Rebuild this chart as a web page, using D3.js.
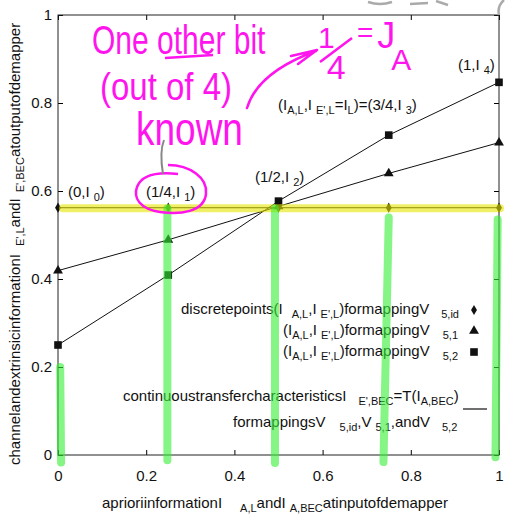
<!DOCTYPE html>
<html>
<head>
<meta charset="utf-8">
<script src="https://cdn.jsdelivr.net/npm/d3@7"></script>
<style>
  body { margin: 0; background: #fff; }
  text { font-family: "Liberation Sans", Arial, sans-serif; fill: #111; }
</style>
</head>
<body>
<div id="chart"></div>
<script>
// values
const xPoints = [0, 0.25, 0.5, 0.75, 1];
const v5id = [0.562, 0.562, 0.562, 0.562, 0.562];
const v51 = [0.419, 0.489, 0.565, 0.640, 0.710];
const v52 = [0.250, 0.409, 0.577, 0.727, 0.847];
const tickValues = [0, 0.2, 0.4, 0.6, 0.8, 1];
const tickLabels = ["0", "0.2", "0.4", "0.6", "0.8", "1"];

// hand drawn green strokes: [xTop, yTop, xBottom, yBottom] in data units
const greenStrokes = [
  [0.005, 0.200, 0.007, -0.017],
  [0.248, 0.560, 0.248, -0.012],
  [0.492, 0.560, 0.492, -0.018],
  [0.750, 0.540, 0.738, -0.016],
  [0.997, 0.535, 0.992, -0.005]
];

const W = 506, H = 514;
const svg = d3.select("#chart").append("svg")
  .attr("width", W).attr("height", H);

const x = d3.scaleLinear().domain([0, 1]).range([58, 499]);
const y = d3.scaleLinear().domain([0, 1]).range([455, 15]);

// ticks on all four sides, pointing inwards
svg.append("g").attr("transform", `translate(0,${y(0)})`)
  .call(d3.axisBottom(x).tickValues(tickValues).tickFormat((d, i) => tickLabels[i])
    .tickSizeInner(-5).tickSizeOuter(0).tickPadding(15))
  .call(g => g.select(".domain").remove())
  .call(g => g.selectAll("text").attr("font-size", 15).attr("font-family", "Liberation Sans"));
svg.append("g").attr("transform", `translate(${x(0)},0)`)
  .call(d3.axisLeft(y).tickValues(tickValues).tickFormat((d, i) => tickLabels[i])
    .tickSizeInner(-5).tickSizeOuter(0).tickPadding(6))
  .call(g => g.select(".domain").remove())
  .call(g => g.selectAll("text").attr("font-size", 15).attr("font-family", "Liberation Sans"));
svg.append("g").attr("transform", `translate(0,${y(1)})`)
  .call(d3.axisTop(x).tickValues(tickValues).tickFormat("").tickSizeInner(-5).tickSizeOuter(0))
  .call(g => g.select(".domain").remove());
svg.append("g").attr("transform", `translate(${x(1)},0)`)
  .call(d3.axisRight(y).tickValues(tickValues).tickFormat("").tickSizeInner(-5).tickSizeOuter(0))
  .call(g => g.select(".domain").remove());

svg.append("rect")
  .attr("x", x(0)).attr("y", y(1))
  .attr("width", x(1) - x(0)).attr("height", y(0) - y(1))
  .attr("fill", "none").attr("stroke", "#222").attr("stroke-width", 1);

// text with subscripts, parts = [text, isSub, dx]
function rich(g, px, py, parts, size) {
  size = size || 15;
  const t = g.append("text").attr("x", px).attr("y", py).attr("font-size", size);
  let down = false;
  parts.forEach(([str, sub, dx]) => {
    const ts = t.append("tspan").text(str);
    if (dx) ts.attr("dx", dx);
    if (sub) {
      ts.attr("font-size", 11);
      if (!down) { ts.attr("dy", 4); down = true; }
    } else if (down) {
      ts.attr("dy", -4); down = false;
    }
  });
  return t;
}

// lines
const line = d3.line().x(d => x(d[0])).y(d => y(d[1]));
[v5id, v51, v52].forEach(s => {
  svg.append("path")
    .datum(xPoints.map((v, i) => [v, s[i]]))
    .attr("d", line)
    .attr("fill", "none").attr("stroke", "#111").attr("stroke-width", 1);
});

// markers
const diamond = d3.symbol().type(d3.symbolDiamond).size(30);
const tri = d3.symbol().type(d3.symbolTriangle).size(42);
const square = d3.symbol().type(d3.symbolSquare).size(58);
function markers(s, sym) {
  svg.append("g").selectAll("path").data(xPoints).join("path")
    .attr("transform", (d, i) => `translate(${x(d)},${y(s[i])})`)
    .attr("d", sym).attr("fill", "#111");
}
markers(v5id, diamond);
markers(v51, tri);
markers(v52, square);

// point labels
rich(svg, 68, 197, [["(0,I"], ["0", true, 4], [")"]]);
rich(svg, 146, 197, [["(1/4,I"], ["1", true, 4], [")"]]);
rich(svg, 255, 182, [["(1/2,I"], ["2", true, 4], [")"]]);
rich(svg, 278, 110, [["(I"], ["A,L", true], [",I"], ["E',L", true, 4], ["=I"], ["L", true], [")=(3/4,I"], ["3", true, 4], [")"]]);
rich(svg, 458, 70, [["(1,I"], ["4", true, 4], [")"]]);

// legend
rich(svg, 181, 314, [["discretepoints(I"], ["A,L", true, 9], [",I"], ["E',L", true, 4], [")formappingV"], ["5,id", true, 12]]);
rich(svg, 283, 335, [["(I"], ["A,L", true], [",I"], ["E',L", true, 4], [")formappingV"], ["5,1", true, 13]]);
rich(svg, 283, 356, [["(I"], ["A,L", true], [",I"], ["E',L", true, 4], [")formappingV"], ["5,2", true, 13]]);
rich(svg, 123, 401, [["continuoustransfercharacteristicsI"], ["E',BEC", true, 12], ["=T(I"], ["A,BEC", true], [")"]]);
rich(svg, 233, 427, [["formappingsV"], ["5,id", true, 14], [",V"], ["5,1", true, 4], [",andV"], ["5,2", true, 12]]);
svg.append("path").attr("transform", "translate(474,310)").attr("d", diamond).attr("fill", "#111");
svg.append("path").attr("transform", "translate(474,331)").attr("d", tri).attr("fill", "#111");
svg.append("path").attr("transform", "translate(474,352)").attr("d", square).attr("fill", "#111");
svg.append("line").attr("x1", 463).attr("x2", 487).attr("y1", 409).attr("y2", 409)
  .attr("stroke", "#111").attr("stroke-width", 1.2);

// axis titles
rich(svg, 102, 508, [["aprioriinformationI"], ["A,L", true, 18], ["andI"], ["A,BEC", true, 4], ["atinputofdemapper"]]);
rich(svg.append("g").attr("transform", "translate(20,465) rotate(-90)"), 0, 0,
  [["channelandextrinsicinformationI"], ["E',L", true, 8], ["andI"], ["E',BEC", true, 6], ["atoutputofdemapper"]]);

// ---- highlighter marks on top ----
svg.append("line")
  .attr("x1", x(0) + 5).attr("x2", x(1) + 1)
  .attr("y1", y(v5id[0]) + 0.5).attr("y2", y(v5id[0]) + 0.5)
  .attr("stroke", "#e6e600").attr("stroke-opacity", 0.6)
  .attr("stroke-width", 8).attr("stroke-linecap", "round");

svg.append("g").selectAll("line").data(greenStrokes).join("line")
  .attr("x1", d => x(d[0])).attr("y1", d => y(d[1]))
  .attr("x2", d => x(d[2])).attr("y2", d => y(d[3]))
  .attr("stroke", "#33ee33").attr("stroke-opacity", 0.6)
  .attr("stroke-width", 8).attr("stroke-linecap", "round");

// ---- magenta handwriting ----
const pink = "#ff14ee";
const hand = svg.append("g").attr("class", "hand");
function scrawl(px, py, str, size, stretch) {
  return hand.append("text")
    .attr("transform", `translate(${px},${py}) scale(1,${stretch})`)
    .text(str).style("fill", pink).attr("font-size", size);
}
scrawl(92, 54, "One other bit", 30, 1.35);
scrawl(100, 100, "(out of 4)", 33, 1.2);
scrawl(136, 145, "known", 37, 1.25);

// "1/4 = J_A"
const frac = hand.append("text").attr("x", 318).attr("y", 48)
  .style("fill", pink);
frac.append("tspan").attr("font-size", 30).text("1");
frac.append("tspan").attr("font-size", 34).attr("dx", -8).attr("dy", 31).text("4");
const ja = hand.append("text").attr("x", 357).attr("y", 42)
  .style("fill", pink);
ja.append("tspan").attr("font-size", 28).text("=");
ja.append("tspan").attr("font-size", 36).attr("dx", 4).attr("dy", 6).text("J");
ja.append("tspan").attr("font-size", 30).attr("dx", -4).attr("dy", 22).text("A");

hand.append("path").attr("d", "M165,58 L213,55")
  .attr("stroke", pink).attr("stroke-width", 2.5).attr("fill", "none");
hand.append("path").attr("d", "M320,62 L352,38")
  .attr("stroke", pink).attr("stroke-width", 2.5).attr("fill", "none");
hand.append("path").attr("d", "M247,108 Q258,72 316,51 M291,56 L317,50 L298,64")
  .attr("stroke", pink).attr("stroke-width", 2.5).attr("fill", "none")
  .attr("stroke-linecap", "round").attr("stroke-linejoin", "round");
hand.append("path")
  .attr("d", "M168,165 C190,165 208,178 206,194 C204,212 180,215 160,212 C140,209 133,198 137,187 C142,174 160,172 178,174")
  .attr("stroke", pink).attr("stroke-width", 2.5).attr("fill", "none");
hand.append("path").attr("d", "M164,140 C160,150 161,162 163,174")
  .attr("stroke", "#888").attr("stroke-width", 2).attr("fill", "none");

// scraps of another drawing cut off at the top right
svg.append("path").attr("d", "M368,2 Q380,6 392,2 M410,4 L428,3 M436,1 L448,5 M499,15 Q497,6 504,0")
  .attr("stroke", "#aaa").attr("stroke-width", 2.5).attr("fill", "none");
</script>
</body>
</html>
